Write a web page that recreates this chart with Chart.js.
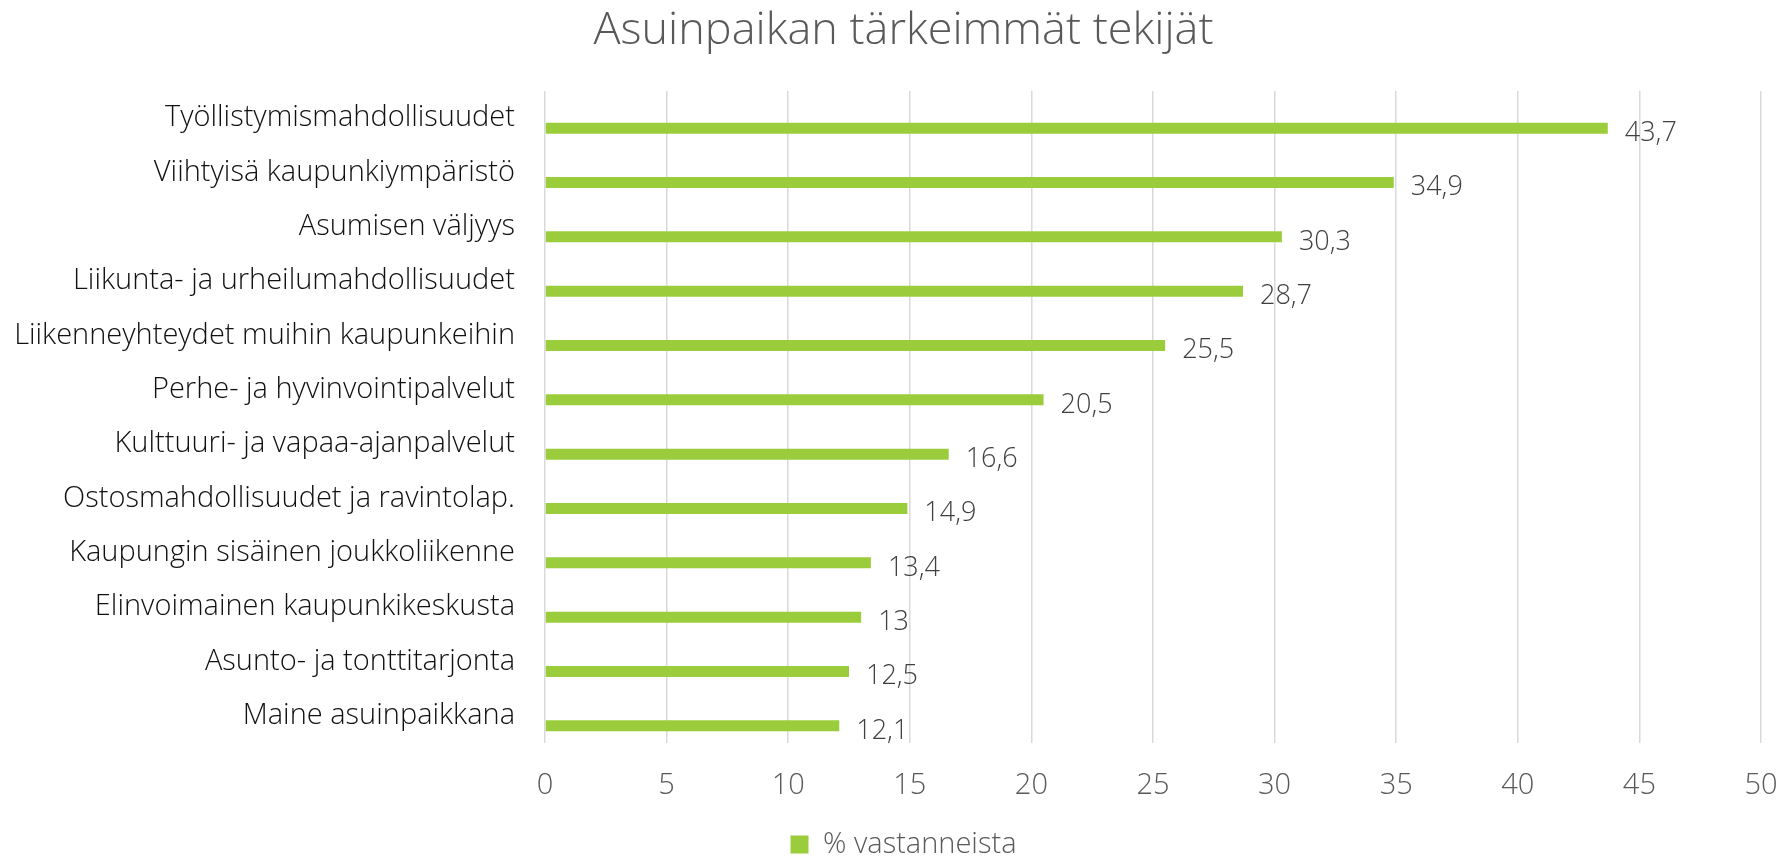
<!DOCTYPE html>
<html>
<head>
<meta charset="utf-8">
<script src="https://cdn.jsdelivr.net/npm/chart.js@4.4.1/dist/chart.umd.min.js"></script>
<style>
  html, body { margin: 0; padding: 0; background: #ffffff; }
  #wrap { width: 1785px; height: 859px; position: relative; }
</style>
</head>
<body>
<div id="wrap"><canvas id="chart"></canvas></div>
<script>
// Chart data
const categories = [
  'Työllistymismahdollisuudet',
  'Viihtyisä kaupunkiympäristö',
  'Asumisen väljyys',
  'Liikunta- ja urheilumahdollisuudet',
  'Liikenneyhteydet muihin kaupunkeihin',
  'Perhe- ja hyvinvointipalvelut',
  'Kulttuuri- ja vapaa-ajanpalvelut',
  'Ostosmahdollisuudet ja ravintolap.',
  'Kaupungin sisäinen joukkoliikenne',
  'Elinvoimainen kaupunkikeskusta',
  'Asunto- ja tonttitarjonta',
  'Maine asuinpaikkana'
];
const respondentShare = [43.7, 34.9, 30.3, 28.7, 25.5, 20.5, 16.6, 14.9, 13.4, 13, 12.5, 12.1];
// empty series so the bar sits in the lower half of each category, like the original
const emptySeries = [null, null, null, null, null, null, null, null, null, null, null, null];
const seriesLabel = '% vastanneista';
const chartTitle = 'Asuinpaikan tärkeimmät tekijät';

const FONT = "'Open Sans', sans-serif";

// draws the value next to the end of every bar
const valueLabels = {
  id: 'valueLabels',
  afterDatasetsDraw(chart) {
    const ctx = chart.ctx;
    const meta = chart.getDatasetMeta(1);
    ctx.save();
    ctx.font = '300 27px ' + FONT;
    ctx.fillStyle = '#404040';
    ctx.textAlign = 'left';
    ctx.textBaseline = 'middle';
    meta.data.forEach((bar, i) => {
      const text = String(respondentShare[i]).replace('.', ',');
      ctx.fillText(text, bar.x + 17, bar.y + 5);
    });
    ctx.restore();
  }
};

// the long category names run past the padded edge; let the y axis labels use it
const widenLabelArea = {
  id: 'widenLabelArea',
  afterLayout(chart) {
    chart.scales.y.left = 0;
  }
};

const chart = new Chart(document.getElementById('chart').getContext('2d'), {
  type: 'bar',
  data: {
    labels: categories,
    datasets: [{
      label: '',
      data: emptySeries,
      backgroundColor: 'rgba(0,0,0,0)'
    }, {
      label: seriesLabel,
      data: respondentShare,
      backgroundColor: '#9bcc3b',
      borderWidth: 0
    }]
  },
  options: {
    indexAxis: 'y',
    responsive: true,
    maintainAspectRatio: false,
    animation: false,
    categoryPercentage: 0.735,
    barPercentage: 0.55,
    layout: {
      padding: { left: 30, right: 8, top: 0, bottom: -10 }
    },
    plugins: {
      title: {
        display: true,
        text: chartTitle,
        color: '#595959',
        font: { family: FONT, size: 45, weight: '300' },
        padding: { top: 4, bottom: 33 }
      },
      legend: {
        position: 'bottom',
        labels: {
          filter: item => item.datasetIndex === 1,
          color: '#595959',
          font: { family: FONT, size: 29, weight: '300' },
          boxWidth: 18,
          boxHeight: 18,
          padding: 0
        }
      },
      tooltip: { enabled: false }
    },
    scales: {
      x: {
        min: 0,
        max: 50,
        ticks: {
          stepSize: 5,
          color: '#595959',
          font: { family: FONT, size: 29, weight: '300' },
          padding: 0
        },
        grid: {
          color: '#d9d9d9',
          lineWidth: 1.5,
          drawTicks: true,
          tickLength: 25,
          tickColor: 'rgba(0,0,0,0)'
        },
        border: { display: false },
        afterFit(scale) {
          scale.height = 87;
          scale.paddingRight = 24;
        }
      },
      y: {
        ticks: {
          color: '#111111',
          font: { family: FONT, size: 29, weight: '300' },
          padding: 30
        },
        grid: { display: false, drawTicks: false },
        border: { display: false },
        afterFit(scale) { scale.width = 515; }
      }
    }
  },
  plugins: [valueLabels, widenLabelArea]
});
</script>
</body>
</html>
